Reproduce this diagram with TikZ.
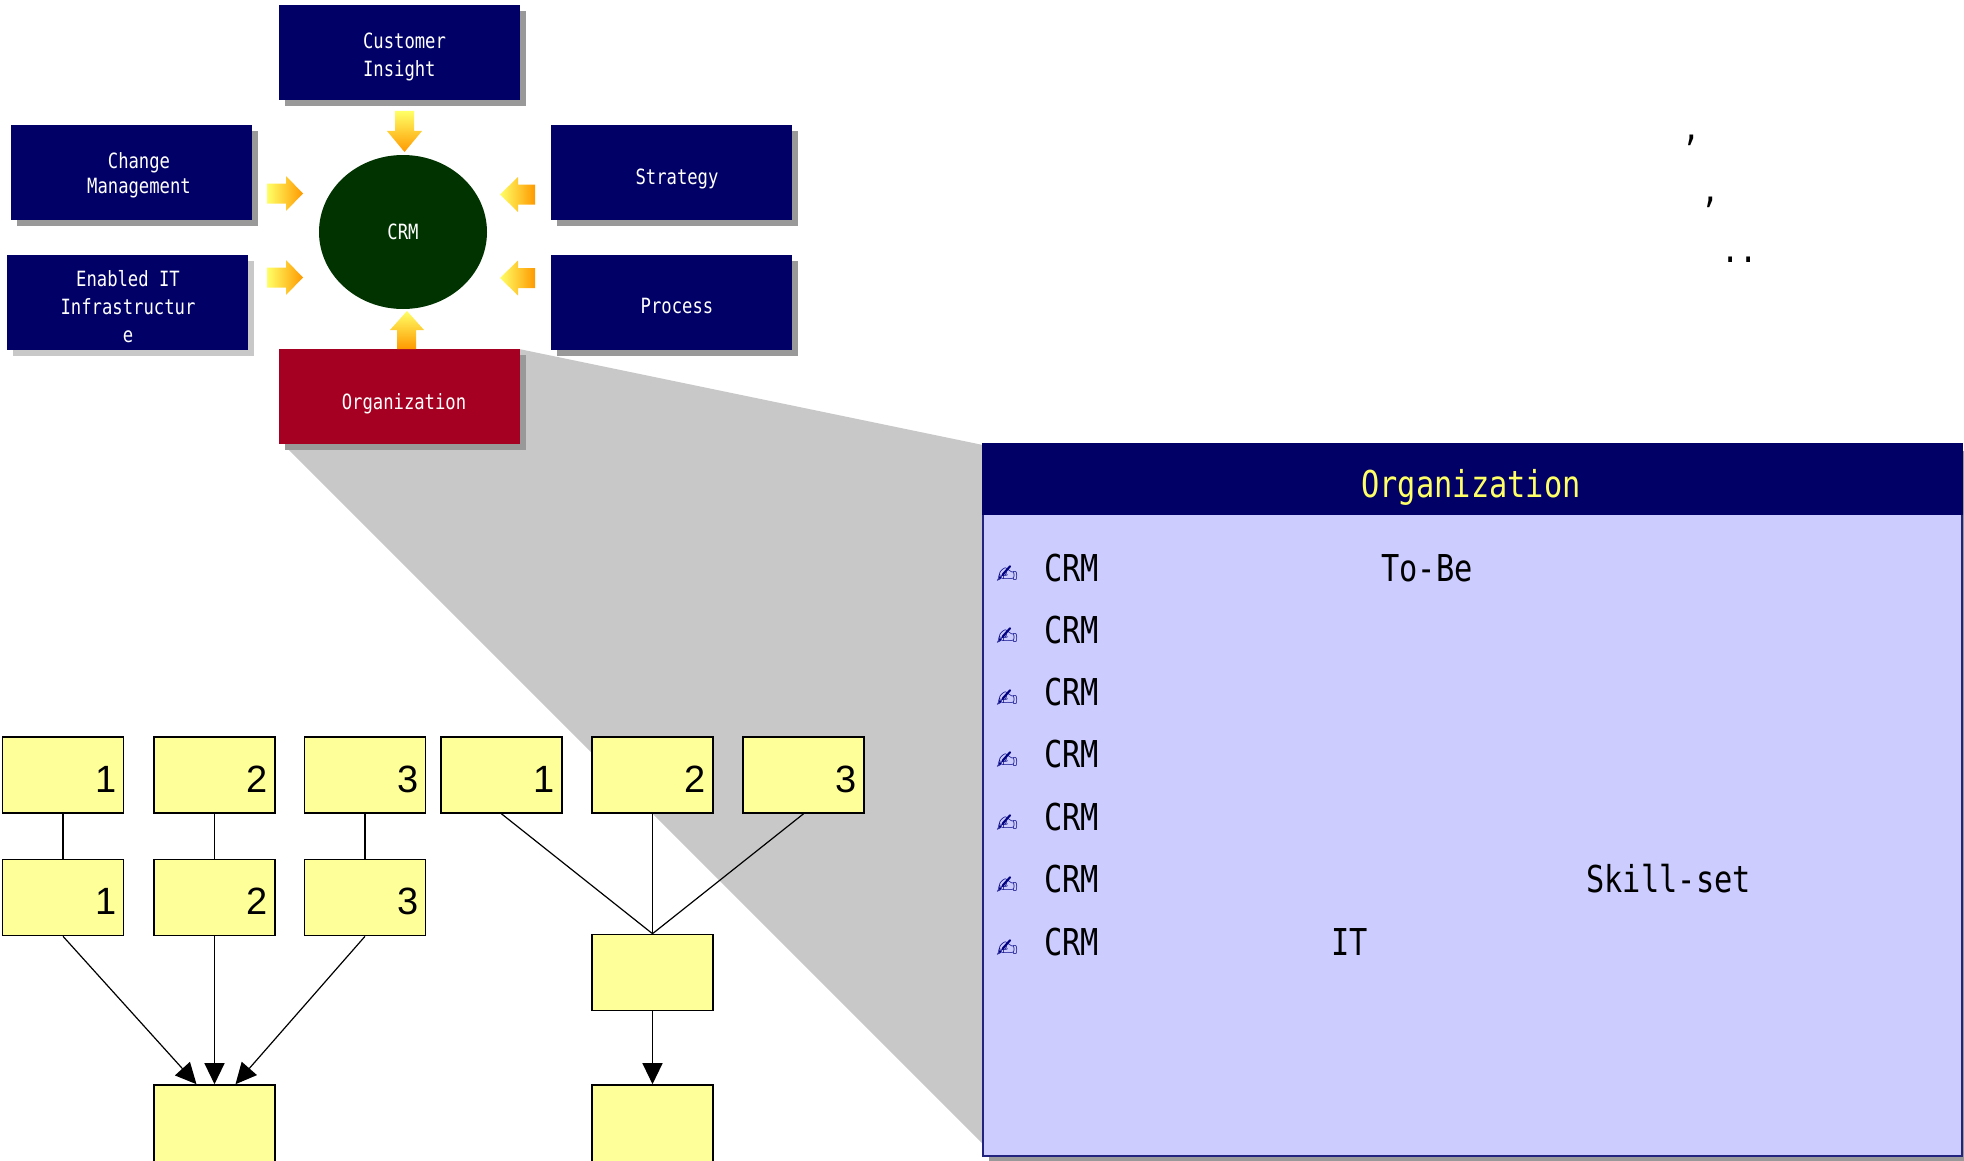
\documentclass[tikz,border=0pt]{standalone}
\usepackage{fontspec}
\setmainfont{Liberation Sans}
\newfontfamily\monof[FakeStretch=0.82]{DejaVu Sans Mono}
\newfontfamily\symf{DejaVu Sans}
\usetikzlibrary{shapes.geometric,arrows.meta,calc,shadows}
\definecolor{navy}{HTML}{000066}
\definecolor{crimsonbox}{HTML}{A50021}
\definecolor{crmgreen}{HTML}{003300}
\definecolor{shadowgray}{HTML}{999999}
\definecolor{lightshadow}{HTML}{C8C8C8}
\definecolor{zoomgray}{HTML}{C8C8C8}
\definecolor{lavender}{HTML}{CCCCFF}
\definecolor{boxyellow}{HTML}{FFFF99}
\definecolor{hdryellow}{HTML}{FFFF66}
\definecolor{arrowyellow}{HTML}{FFFF66}
\definecolor{arroworange}{HTML}{FF9900}
\definecolor{bordernavy}{HTML}{22227F}
\definecolor{bulletnavy}{HTML}{000080}
\newcommand\boxfont{\monof\fontsize{10.5}{14}\selectfont}
\newcommand\listfont{\monof\fontsize{18.5}{22}\selectfont}
\newcommand\numfont{\fontsize{19}{19}\selectfont}
\begin{document}
\begin{tikzpicture}[x=0.5pt,y=-0.5pt,
  topbox/.style={rectangle, fill=navy, inner sep=0pt, minimum width=120.5pt, minimum height=47.5pt,
    drop shadow={shadow xshift=3pt, shadow yshift=-3pt, fill=shadowgray, opacity=1}},
  boxtext/.style={text=white, font=\boxfont, align=center, inner sep=0pt},
  ybox/.style={rectangle, draw=black, line width=0.8pt, fill=boxyellow, minimum width=60.5pt,
    minimum height=38pt, inner xsep=3.5pt, inner ysep=0pt, text width=53.5pt, align=right,
    font=\numfont, text height=17pt, text depth=0pt},
  conn/.style={draw=black, line width=0.6pt},
  arr/.style={-{Triangle[length=10.5pt,width=10pt]}},
  listtext/.style={anchor=base west, inner sep=0pt, font=\listfont, text=black},
  bul/.style={anchor=base west, inner sep=0pt, font=\symf\fontsize{13}{13}\selectfont, text=bulletnavy}
]
\useasboundingbox (0,0) rectangle (1964,1161);
\clip (0,0) rectangle (1964,1161);

% zoom wedge
\fill[zoomgray] (519,349) -- (983,445) -- (983,1144) -- (285,446) -- cycle;

% top boxes
\node[topbox] (ci) at (399,52.5) {};
\node[topbox] (cm) at (131.5,172.5) {};
\node[topbox] (st) at (671,172.5) {};
\node[topbox, drop shadow={shadow xshift=3pt, shadow yshift=-3pt, fill=lightshadow, opacity=1}] (eit) at (127.5,302) {};
\node[topbox] (pr) at (671,302.5) {};
\node[topbox, fill=crimsonbox] (org) at (399,396.5) {};

\node[boxtext, align=left] (tci) at (404.5,57) {Customer\\Insight};
\node[boxtext, font=\monof\fontsize{10.5}{12.5}\selectfont] (tcm) at (139,175) {Change\\Management};
\node[boxtext] (tst) at (677,178.5) {Strategy};
\node[boxtext] (teit) at (128,307) {Enabled IT\\Infrastructur\\e};
\node[boxtext] (tpr) at (677,306) {Process};
\node[boxtext] (torg) at (404,403.5) {Organization};

% CRM ellipse
\node[ellipse, fill=crmgreen, minimum width=84pt, minimum height=77pt, inner sep=0pt,
  text=white, font=\boxfont] (crm) at (403,232) {CRM};

% block arrows
\shade[top color=arrowyellow, bottom color=arroworange]
  (395,111) -- (414,111) -- (414,131) -- (422,131) -- (404.5,152) -- (387,131) -- (395,131) -- cycle;
\shade[top color=arrowyellow, bottom color=arroworange]
  (397,349) -- (416,349) -- (416,330) -- (424,330) -- (407,311) -- (390,330) -- (397,330) -- cycle;
\shade[left color=arrowyellow, right color=arroworange]
  (267,183.5) -- (286,183.5) -- (286,176) -- (303,193.5) -- (286,211) -- (286,203.5) -- (267,203.5) -- cycle;
\shade[left color=arrowyellow, right color=arroworange]
  (267,267.5) -- (286,267.5) -- (286,260) -- (303,277.5) -- (286,295) -- (286,287.5) -- (267,287.5) -- cycle;
\shade[left color=arrowyellow, right color=arroworange]
  (535,184.5) -- (518,184.5) -- (518,177) -- (500,194.5) -- (518,212) -- (518,204.5) -- (535,204.5) -- cycle;
\shade[left color=arrowyellow, right color=arroworange]
  (535,268) -- (518,268) -- (518,260.5) -- (500,278) -- (518,295.5) -- (518,288) -- (535,288) -- cycle;

% detail box
\node[rectangle, fill=lavender, draw=bordernavy, line width=1pt, inner sep=0pt,
  minimum width=489.5pt, minimum height=355.5pt,
  drop shadow={shadow xshift=3pt, shadow yshift=-3pt, fill=shadowgray, opacity=1}] (det) at (1472.5,800.5) {};
\node[rectangle, fill=navy, inner sep=0pt, anchor=north, minimum width=490.5pt, minimum height=36pt] (hdr)
  at ($(det.north)+(0,-1)$) {};
\node[anchor=base, inner sep=0pt, font=\listfont, text=hdryellow] (hdrtxt) at (1471,497) {Organization};

\foreach \i/\yy in {1/581,2/643,3/705,4/767,5/830,6/892,7/955}{
  \node[bul] (bul\i) at (996,\yy+2) {✍};
  \node[listtext] (crmt\i) at (1044,\yy) {CRM};
}
\node[listtext] (tobe) at (1381,581) {To-Be};
\node[listtext] (skill) at (1586,892) {Skill-set};
\node[listtext] (itx) at (1331,955) {IT};

% remnant punctuation top right
\node[anchor=base, inner sep=0pt, font=\listfont] (p1) at (1692,140.5) {,};
\node[anchor=base, inner sep=0pt, font=\listfont] (p2) at (1711,202.5) {,};
\node[anchor=base, inner sep=0pt, font=\listfont] (p3) at (1739.5,262) {..};

% yellow boxes
\node[ybox] (a11) at (63,775) {1};
\node[ybox] (a12) at (214.5,775) {2};
\node[ybox] (a13) at (365,775) {3};
\node[ybox] (b11) at (501.5,775) {1};
\node[ybox] (b12) at (652.5,775) {2};
\node[ybox] (b13) at (803.5,775) {3};
\node[ybox] (a21) at (63,897.5) {1};
\node[ybox] (a22) at (214.5,897.5) {2};
\node[ybox] (a23) at (365,897.5) {3};
\node[ybox] (b2) at (652.5,972.5) {};
\node[ybox, minimum height=45pt] (ca) at (214.5,1130) {};
\node[ybox, minimum height=45pt] (cb) at (652.5,1130) {};

\draw[conn] (a11) -- (a21);
\draw[conn] (a12) -- (a22);
\draw[conn] (a13) -- (a23);
\draw[conn,arr] (a21.south) -- ($(ca.north)+(-18,0)$);
\draw[conn,arr] (a22) -- (ca);
\draw[conn,arr] (a23.south) -- ($(ca.north)+(21,0)$);
\draw[conn] (b11.south) -- (b2.north);
\draw[conn] (b12) -- (b2);
\draw[conn] (b13.south) -- (b2.north);
\draw[conn,arr] (b2) -- (cb);
\end{tikzpicture}
\end{document}
